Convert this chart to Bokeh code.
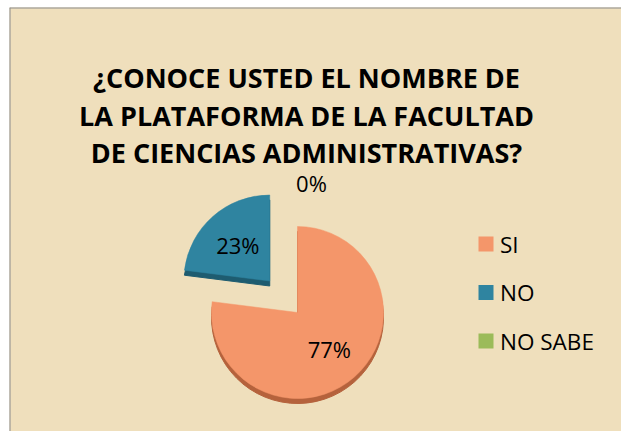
import math
from bokeh.plotting import figure
from bokeh.models import Label, ColumnDataSource, Span
from bokeh.core.properties import value
from bokeh.embed import file_html
from bokeh.resources import INLINE

# ---- data ----
title_lines = ["¿CONOCE USTED EL NOMBRE DE",
               "LA PLATAFORMA DE LA FACULTAD",
               "DE CIENCIAS ADMINISTRATIVAS?"]
categories = ["SI", "NO", "NO SABE"]
percents = [77, 23, 0]
colors = ["#F4966A", "#2F84A0", "#9BBB59"]
rim_colors = ["#B5623C", "#1E5C70", "#6E8A3A"]
explode = [0, 42, 0]

W, H = 621, 431
LEFT, TOP = 9, 7
BG = "#EFDFBC"

def sx(X):
    return X

def sy(Y):
    return H - Y

p = figure(width=W, height=H, x_range=(LEFT, W), y_range=(0, H - TOP),
           x_axis_location=None, y_axis_location=None,
           toolbar_location=None, output_backend="svg",
           min_border=0, min_border_left=LEFT, min_border_top=TOP)
p.grid.visible = False
p.background_fill_color = BG
p.border_fill_color = "#FFFFFF"
p.outline_line_color = None
p.add_layout(Span(location=LEFT, dimension="height", line_color="#8C8C8C", line_width=2))
p.add_layout(Span(location=H - TOP, dimension="width", line_color="#8C8C8C", line_width=2))

# pie geometry
cx, cy, r = sx(297), sy(312), 86
thick = 5
total = sum(percents)
starts, ends, xs, ys, lx, ly, labels = [], [], [], [], [], [], []
cum = 0.0
for i, v in enumerate(percents):
    a0 = math.pi / 2 - 2 * math.pi * cum / total          # clockwise start
    cum += v
    a1 = math.pi / 2 - 2 * math.pi * cum / total          # clockwise end
    mid = (a0 + a1) / 2
    ox = cx + explode[i] * math.cos(mid)
    oy = cy + explode[i] * math.sin(mid)
    starts.append(a1)
    ends.append(a0)
    xs.append(ox)
    ys.append(oy)
    if v > 0:
        lx.append(ox + 0.56 * r * math.cos(mid))
        ly.append(oy + 0.56 * r * math.sin(mid))
    else:
        lx.append(ox + 14 + (r + 44) * math.cos(mid))
        ly.append(oy + (r + 44) * math.sin(mid))
    labels.append(f"{v}%")

src = ColumnDataSource(dict(x=xs, y=ys, ys=[y - thick for y in ys],
                            start=starts, end=ends, color=colors,
                            rim=rim_colors, cat=categories))
vis = [i for i, v in enumerate(percents) if v > 0]
srcv = ColumnDataSource({k: [src.data[k][i] for i in vis] for k in src.data})

# 3D rim
p.wedge(x="x", y="ys", radius=r, start_angle="start", end_angle="end",
        fill_color="rim", line_color="rim", source=srcv)
p.wedge(x="x", y="y", radius=r, start_angle="start", end_angle="end",
        fill_color="color", line_color="color", line_width=0.5, source=srcv)

lsrc = ColumnDataSource(dict(x=lx, y=ly, t=labels))
p.text(x="x", y="y", text="t", source=lsrc, text_align="center",
       text_baseline="middle", text_font=value("Open Sans"),
       text_font_size="22px", text_color="#000000")

# title
title_base = [77, 115, 152]
for line, yb in zip(title_lines, title_base):
    p.add_layout(Label(x=sx(306), y=sy(yb), text=line, text_align="center",
                       text_baseline="alphabetic", text_font="Open Sans",
                       text_font_style="bold", text_font_size="27px",
                       text_color="#000000"))

# legend (manual)
leg_x, leg_y0, leg_step = sx(485.5), sy(243.5), 48.5
leg_ys = [leg_y0 - i * leg_step for i in range(len(categories))]
legsrc = ColumnDataSource(dict(x=[leg_x] * len(categories), y=leg_ys,
                               tx=[leg_x + 14] * len(categories),
                               c=colors, t=categories))
p.scatter(x="x", y="y", marker="square", size=15, fill_color="c",
          line_color=None, source=legsrc)
p.text(x="tx", y="y", text="t", source=legsrc, text_align="left",
       text_baseline="middle", text_font=value("Open Sans"),
       text_font_size="22.5px", text_color="#000000")

open("out.html", "w").write(file_html(p, INLINE))
